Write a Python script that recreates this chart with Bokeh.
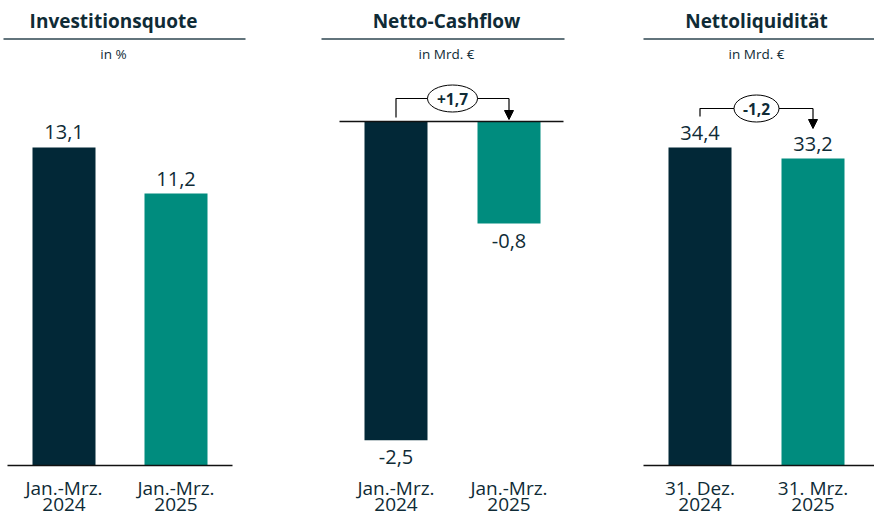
from bokeh.plotting import figure
from bokeh.layouts import row
from bokeh.models import Range1d, Arrow, NormalHead
from bokeh.core.properties import value
from bokeh.embed import file_html
from bokeh.resources import INLINE

# ---------------- data ----------------
titles = ["Investitionsquote", "Netto-Cashflow", "Nettoliquidität"]
units = ["in %", "in Mrd. €", "in Mrd. €"]
cats_invest = ["Jan.-Mrz.\n2024", "Jan.-Mrz.\n2025"]
vals_invest = [13.1, 11.2]
cats_cash = ["Jan.-Mrz.\n2024", "Jan.-Mrz.\n2025"]
vals_cash = [-2.5, -0.8]
cats_liq = ["31. Dez.\n2024", "31. Mrz.\n2025"]
vals_liq = [34.4, 33.2]
bar_colors = ["#022837", "#008c7e"]

FONT = "Open Sans"
DARK = "#0f2b36"
TOP, BOTTOM = 0, 517  # page y of canvas top / bottom


def fmt(v, sign=False):
    s = f"{v:+.1f}" if sign else f"{v:.1f}"
    return s.replace(".", ",")


def panel(title, unit, cats, vals, cfg):
    left, width = cfg["left"], cfg["width"]
    c0, step = cfg["c0"], cfg["step"]
    zero, scale = cfg["zero"], cfg["scale"]

    def X(px):
        return (px - c0) / step

    def Y(py):
        return (zero - py) / scale

    p = figure(width=width, height=BOTTOM - TOP, output_backend="svg",
               toolbar_location=None, x_axis_location=None, y_axis_location=None,
               x_range=Range1d(X(left), X(left + width)),
               y_range=Range1d(Y(BOTTOM), Y(TOP)), min_border=0)
    p.outline_line_color = None
    p.grid.visible = False
    p.background_fill_color = "white"
    p.border_fill_color = "white"

    idx = list(range(len(cats)))

    # header
    p.text(x=[X(cfg["tx"])], y=[Y(20)], text=[title], text_font=value(FONT),
           text_font_style="bold", text_font_size="19px", text_color=DARK,
           text_align="center", text_baseline="middle")
    p.line(x=[X(cfg["hl"][0]), X(cfg["hl"][1])], y=[Y(38.5), Y(38.5)],
           line_color="#2e4651", line_width=1.5)
    p.text(x=[X(cfg["tx"])], y=[Y(53)], text=[unit], text_font=value(FONT),
           text_font_size="13.5px", text_color=DARK,
           text_align="center", text_baseline="middle")

    # bars
    p.vbar(x=idx, top=vals, bottom=0, width=63 / step, color=bar_colors,
           line_color=None)
    # base line
    p.line(x=[X(cfg["bl"][0]), X(cfg["bl"][1])], y=[0, 0],
           line_color="#111111", line_width=1.5)

    # value labels
    for i, v in enumerate(vals):
        off = -15 if v >= 0 else 17
        p.text(x=[i], y=[v], text=[fmt(v)], text_font=value(FONT),
               text_font_size="20px", text_color=DARK, y_offset=off,
               text_align="center", text_baseline="middle")

    # category labels (two lines each)
    line1 = [c.split("\n")[0] for c in cats]
    line2 = [c.split("\n")[1] for c in cats]
    p.text(x=idx, y=[Y(487)] * len(cats), text=line1, text_font=value(FONT),
           text_font_size="19px", text_color=DARK,
           text_align="center", text_baseline="middle")
    p.text(x=idx, y=[Y(504)] * len(cats), text=line2, text_font=value(FONT),
           text_font_size="19px", text_color=DARK,
           text_align="center", text_baseline="middle")

    # change bracket
    if "by" in cfg:
        by = cfg["by"]
        p.line(x=[0, 0, 1], y=[Y(cfg["b0"]), Y(by), Y(by)],
               line_color="black", line_width=1.2)
        p.add_layout(Arrow(x_start=1, y_start=Y(by), x_end=1, y_end=Y(cfg["b1"]),
                           line_color="black", line_width=1.2,
                           end=NormalHead(size=9, fill_color="black",
                                          line_color="black")))
        p.ellipse(x=[0.5], y=[Y(by)], width=cfg["ew"], height=27,
                  width_units="screen", height_units="screen",
                  fill_color="white", line_color="black", line_width=1)
        delta = round(vals[1] - vals[0], 1)
        p.text(x=[0.5], y=[Y(by)], text=[fmt(delta, sign=True)],
               text_font=value(FONT), text_font_style="bold",
               text_font_size="15.5px", text_color=DARK,
               text_align="center", text_baseline="middle")
    return p


cfg1 = dict(left=0, width=284, c0=63.5, step=112, zero=465, scale=24.275,
            tx=113, hl=(3, 245), bl=(7, 232))
cfg2 = dict(left=284, width=320, c0=395.5, step=113, zero=121, scale=127.5,
            tx=446, hl=(321, 564), bl=(339, 563),
            by=98, b0=117, b1=119, ew=50)
cfg3 = dict(left=604, width=270, c0=699.5, step=113, zero=465, scale=9.244,
            tx=756, hl=(643, 874), bl=(643, 874),
            by=108, b0=116, b1=128, ew=45)

p1 = panel(titles[0], units[0], cats_invest, vals_invest, cfg1)
p2 = panel(titles[1], units[1], cats_cash, vals_cash, cfg2)
p3 = panel(titles[2], units[2], cats_liq, vals_liq, cfg3)

layout = row(p1, p2, p3, spacing=0)
open("out.html", "w").write(file_html(layout, INLINE))
